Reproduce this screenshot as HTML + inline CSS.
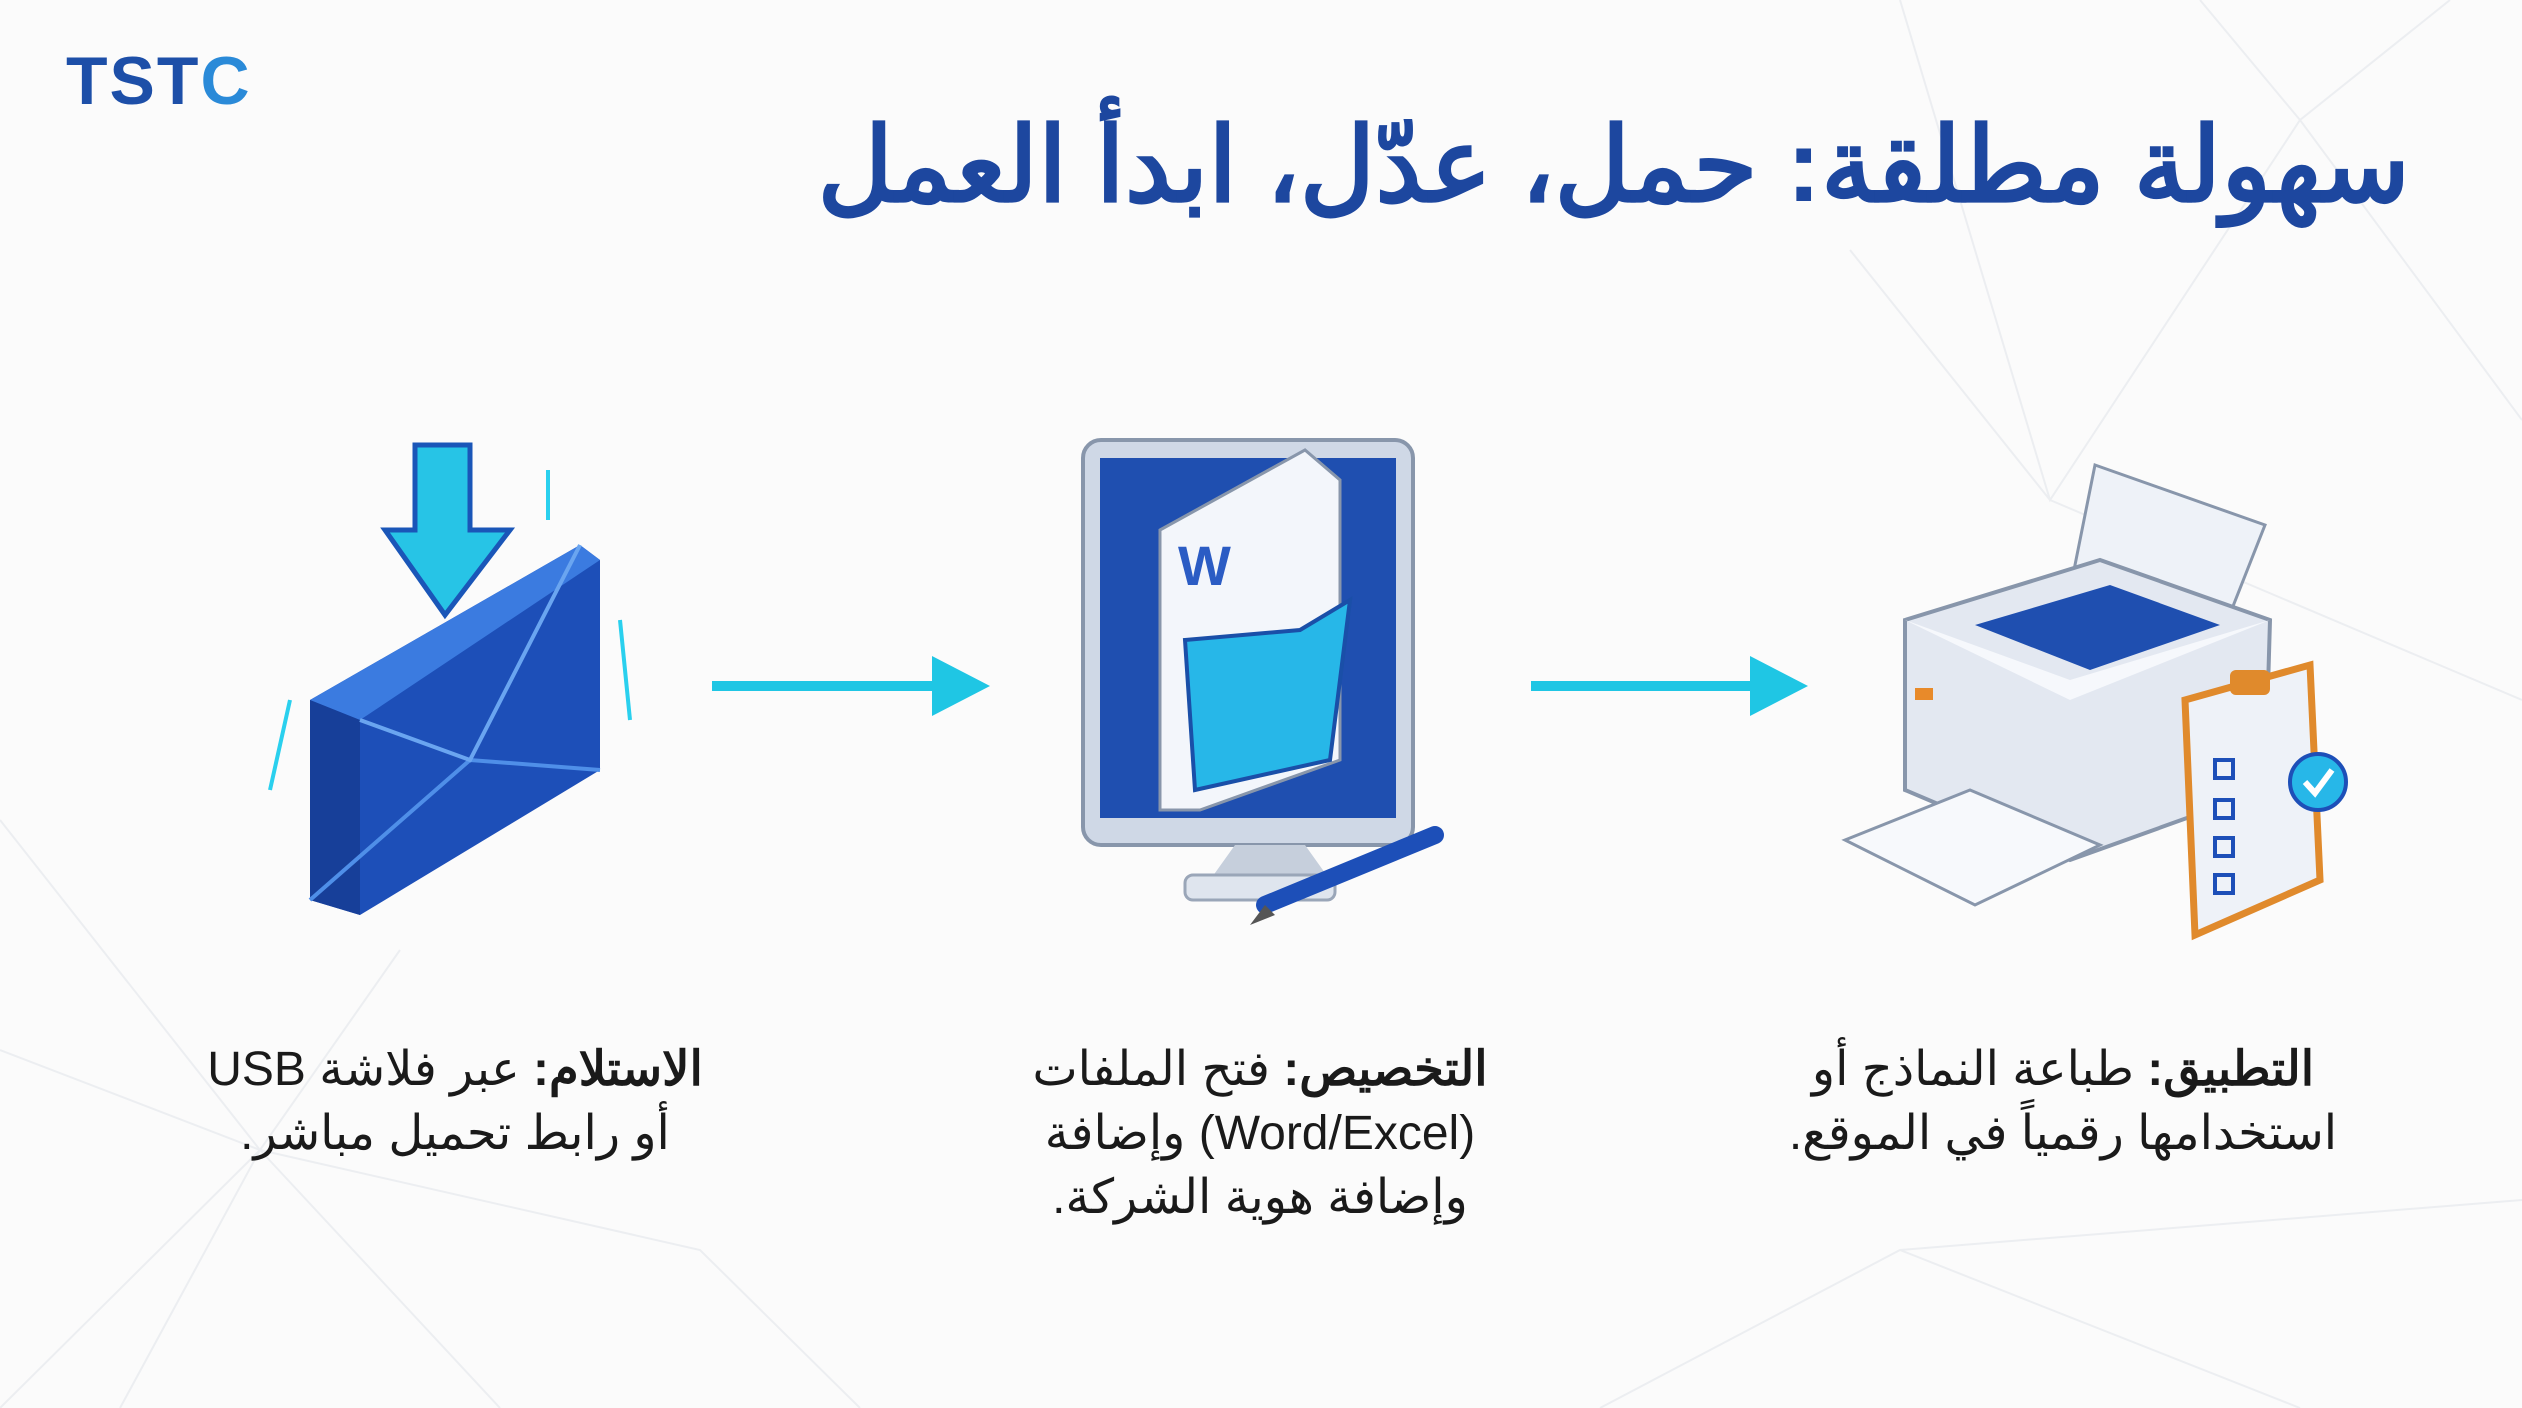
<!DOCTYPE html>
<html><head><meta charset="utf-8"><style>
html,body{margin:0;padding:0;}
body{width:2522px;height:1408px;position:relative;background:#fbfbfb;overflow:hidden;font-family:"Liberation Sans","Noto Sans CJK SC",sans-serif;}
.t{position:absolute;direction:rtl;text-align:center;color:#1a1a1a;font-size:48px;line-height:64px;}
.t b{font-weight:bold;}
</style></head><body>
<svg width="2522" height="1408" style="position:absolute;left:0;top:0" xmlns="http://www.w3.org/2000/svg">
<g stroke="#eceef1" stroke-width="2" fill="none">
<path d="M1900 0 L2050 500 L2300 120 L2522 420 M2050 500 L2522 700 M2200 0 L2300 120 L2450 0 M1850 250 L2050 500"/>
<path d="M0 820 L260 1150 L0 1408 M260 1150 L500 1408 M0 1050 L260 1150 L120 1408 M260 1150 L700 1250 L860 1408 M400 950 L260 1150"/>
<path d="M1600 1408 L1900 1250 L2300 1408 M1900 1250 L2522 1200"/>
</g>
<g fill="#1fc6e4" stroke="#1fc6e4">
<line x1="712" y1="686" x2="950" y2="686" stroke-width="10"/>
<polygon points="932,656 990,686 932,716" stroke="none"/>
<line x1="1531" y1="686" x2="1770" y2="686" stroke-width="10"/>
<polygon points="1750,656 1808,686 1750,716" stroke="none"/>
</g>
<g>
<polygon points="310,700 580,545 600,560 600,770 360,915 310,900" fill="#1d4fb8"/>
<polygon points="310,700 580,545 600,560 360,720" fill="#3b7be0"/>
<polygon points="310,700 360,720 360,915 310,900" fill="#173f99"/>
<polyline points="310,900 470,760 600,770" fill="none" stroke="#4f8fe8" stroke-width="4"/>
<polyline points="360,720 470,760 580,545" fill="none" stroke="#6aa5f0" stroke-width="4"/>
<polygon points="415,445 470,445 470,530 510,530 445,615 385,530 415,530" fill="#27c4e6" stroke="#1a56b8" stroke-width="5"/>
<path d="M290 700 L270 790 M620 620 L630 720 M548 470 V520" stroke="#2ad0ee" stroke-width="4"/>
</g>
<g>
<rect x="1083" y="440" width="330" height="405" rx="18" fill="#cfd8e6" stroke="#8896ab" stroke-width="4"/>
<rect x="1100" y="458" width="296" height="360" fill="#1f4fb0"/>
<polygon points="1235,845 1305,845 1330,880 1210,880" fill="#c6cfdc"/>
<rect x="1185" y="875" width="150" height="25" rx="8" fill="#dfe5ee" stroke="#9aa6b8" stroke-width="3"/>
<polygon points="1160,530 1305,450 1340,480 1340,760 1200,810 1160,810" fill="#f3f6fb" stroke="#8896ab" stroke-width="3"/>
<text x="1178" y="585" font-family="Liberation Sans" font-weight="bold" font-size="56" fill="#2b5cc4">W</text>
<path d="M1185 640 L1300 630 L1350 600 L1330 760 L1195 790 Z" fill="#27b7e8" stroke="#1a4fa8" stroke-width="4"/>
<line x1="1265" y1="905" x2="1435" y2="835" stroke="#1d4fb8" stroke-width="18" stroke-linecap="round"/>
<polygon points="1265,905 1250,925 1275,915" fill="#555"/>
</g>
<g>
<polygon points="2095,465 2265,525 2200,690 2060,640" fill="#eef2f8" stroke="#8896ab" stroke-width="3"/>
<polygon points="1905,620 2100,560 2270,620 2265,790 2070,860 1905,790" fill="#e3e8f1" stroke="#8896ab" stroke-width="4"/>
<polygon points="1975,625 2110,585 2220,625 2090,670" fill="#1f4fb0"/>
<polygon points="1905,620 2070,680 2270,620 2070,700" fill="#f6f8fc"/>
<polygon points="1845,840 1970,790 2100,845 1975,905" fill="#f7f9fc" stroke="#8896ab" stroke-width="3"/>
<rect x="1915" y="688" width="18" height="12" fill="#e88a2a"/>
<polygon points="2185,700 2310,665 2320,880 2195,935" fill="#eef2f8" stroke="#e08a2c" stroke-width="7"/>
<rect x="2230" y="670" width="40" height="25" rx="6" fill="#e08a2c"/>
<g fill="none" stroke="#1d4fb8" stroke-width="4"><rect x="2215" y="760" width="18" height="18"/><rect x="2215" y="800" width="18" height="18"/><rect x="2215" y="838" width="18" height="18"/><rect x="2215" y="875" width="18" height="18"/></g>
<circle cx="2318" cy="782" r="28" fill="#27b7e8" stroke="#1d4fb8" stroke-width="4"/>
<polyline points="2305,782 2315,793 2332,770" fill="none" stroke="#fff" stroke-width="6"/>
</g>
</svg>
<div style="position:absolute;left:66px;top:42px;font-size:68px;font-weight:bold;color:#1d4fa8;letter-spacing:2px;font-family:'Liberation Sans',sans-serif;">TST<span style="color:#2a8ad8">C</span></div>
<div style="position:absolute;left:800px;top:96px;width:1610px;text-align:right;direction:rtl;font-size:104px;font-weight:bold;color:#1d479f;line-height:140px;font-family:'Liberation Sans','Noto Sans CJK SC',sans-serif;">سهولة مطلقة: حمل، عدّل، ابدأ العمل</div>
<div class="t" style="left:155px;top:1038px;width:600px;"><b>الاستلام:</b> عبر فلاشة USB<br>أو رابط تحميل مباشر.</div>
<div class="t" style="left:960px;top:1038px;width:600px;"><b>التخصيص:</b> فتح الملفات<br>(Word/Excel) وإضافة<br>وإضافة هوية الشركة.</div>
<div class="t" style="left:1763px;top:1038px;width:600px;"><b>التطبيق:</b> طباعة النماذج أو<br>استخدامها رقمياً في الموقع.</div>
</body></html>
